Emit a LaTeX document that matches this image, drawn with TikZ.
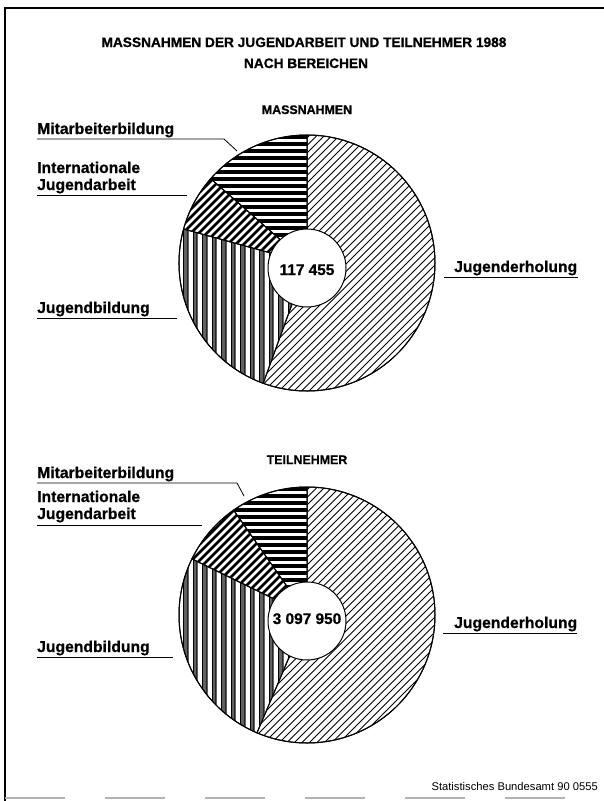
\documentclass[tikz,border=0pt]{standalone}
\usepackage{fontspec}
\setmainfont{Liberation Sans}[BoldFeatures={FakeBold=0.8}]
\def\R{128}
\newcommand\piesector[4]{%
  \begin{scope}
    \clip (#1) -- ++(#2:\R) arc[start angle=#2,end angle=#3,radius=\R] -- cycle;
    \begin{scope}[shift={(#1)}] #4 \end{scope}
  \end{scope}
  \draw[edgeline] (#1) -- ++(#2:\R) arc[start angle=#2,end angle=#3,radius=\R] -- cycle;
}
\def\thindiag{\foreach \i in {-290,-282.5,...,290}{\draw[line width=0.75pt] (\i-140,140) -- (\i+140,-140);}}
\def\thickdiag{\foreach \i in {-290,-282,...,290}{\draw[line width=2.6pt] (\i-140,140) -- (\i+140,-140);}}
\def\hstripes{\foreach \i in {-140,-133,...,140}{\draw[line width=3.5pt] (-140,\i) -- (140,\i);}}
\def\vstripes{\foreach \i in {-140,-130.5,...,140}{\draw[line width=5pt, black!62] (\i,-140) -- (\i,140); \draw[line width=0.9pt] (\i-2.3,-140) -- (\i-2.3,140); \draw[line width=0.6pt, black!85] (\i+1.2,-140) -- (\i+1.2,140);}}
\begin{document}
\begin{tikzpicture}[x=1pt,y=-1pt,
  lbl/.style={font=\bfseries\fontsize{15.7}{17}\selectfont, anchor=base west, inner sep=0pt, align=left},
  ttl/.style={font=\bfseries\fontsize{13.7}{16}\selectfont, anchor=base, inner sep=0pt},
  sub/.style={font=\bfseries\fontsize{12.4}{14}\selectfont, anchor=base, inner sep=0pt},
  num/.style={font=\bfseries\fontsize{15.4}{17}\selectfont, anchor=base, inner sep=0pt},
  lead/.style={line width=0.8pt},
  edgeline/.style={line width=1pt},
  hole/.style={draw, circle, fill=white, minimum size=78pt, inner sep=0pt, line width=1pt}]
\useasboundingbox (0,0) rectangle (604,801);
% frame
\coordinate (fTL) at (5,8);
\coordinate (fTR) at (604,8);
\coordinate (fBL) at (5,801);
\draw[line width=1.2pt] (fTR) -- (fTL) -- (fBL);
\coordinate (bA) at (5,798);
\coordinate (bB) at (604,798);
\draw[black!30, line width=1.5pt, dash pattern=on 60pt off 40pt] (bA) -- (bB);
% titles
\node[ttl] (t1) at (304,47) {MASSNAHMEN DER JUGENDARBEIT UND TEILNEHMER 1988};
\node[ttl] (t2) at (306,68) {NACH BEREICHEN};
\node[sub] (s1) at (307,114) {MASSNAHMEN};
\node[sub] (s2) at (307,464) {TEILNEHMER};
% pie 1
\coordinate (c1) at (307,263);
\piesector{c1}{-90}{110}{\thindiag}
\piesector{c1}{110}{195.4}{\vstripes}
\piesector{c1}{195.4}{221.2}{\thickdiag}
\piesector{c1}{221.2}{270}{\hstripes}
\draw[edgeline] (c1) circle[radius=\R];
\node[hole] (h1) at (307,268) {};
\node[num] (n1) at (307,275) {117 455};
% pie 2
\coordinate (c2) at (307,615);
\piesector{c2}{-90}{113}{\thindiag}
\piesector{c2}{113}{206}{\vstripes}
\piesector{c2}{206}{235}{\thickdiag}
\piesector{c2}{235}{270}{\hstripes}
\draw[edgeline] (c2) circle[radius=\R];
\node[hole] (h2) at (307,621) {};
\node[num] (n2) at (307,624) {3 097 950};
% labels pie 1
\node[lbl] (m1) at (37,134) {Mitarbeiterbildung};
\coordinate (m1a) at (37,139); \coordinate (m1b) at (224,139); \coordinate (m1c) at (237,151);
\draw[lead] (m1a) -- (m1b) -- (m1c);
\node[lbl] (i1) at (37,190) {Internationale\\Jugendarbeit};
\coordinate (i1a) at (37,195); \coordinate (i1b) at (187,195);
\draw[lead] (i1a) -- (i1b);
\node[lbl] (b1) at (37,313) {Jugendbildung};
\coordinate (b1a) at (37,318); \coordinate (b1b) at (177,318);
\draw[lead] (b1a) -- (b1b);
\node[lbl] (e1) at (454,272) {Jugenderholung};
\coordinate (e1a) at (444,277); \coordinate (e1b) at (578,277);
\draw[lead] (e1a) -- (e1b);
% labels pie 2
\node[lbl] (m2) at (37,478) {Mitarbeiterbildung};
\coordinate (m2a) at (37,483); \coordinate (m2b) at (237,483); \coordinate (m2c) at (244,496);
\draw[lead] (m2a) -- (m2b) -- (m2c);
\node[lbl] (i2) at (37,519) {Internationale\\Jugendarbeit};
\coordinate (i2a) at (37,525); \coordinate (i2b) at (202,525);
\draw[lead] (i2a) -- (i2b);
\node[lbl] (b2) at (37,652) {Jugendbildung};
\coordinate (b2a) at (37,657); \coordinate (b2b) at (173,657);
\draw[lead] (b2a) -- (b2b);
\node[lbl] (e2) at (454,628) {Jugenderholung};
\coordinate (e2a) at (443,633); \coordinate (e2b) at (577,633);
\draw[lead] (e2a) -- (e2b);
% footer
\node[font=\fontsize{11.2}{13}\selectfont, anchor=base east, inner sep=0pt] (src) at (598,790) {Statistisches Bundesamt 90 0555};
\end{tikzpicture}
\end{document}
